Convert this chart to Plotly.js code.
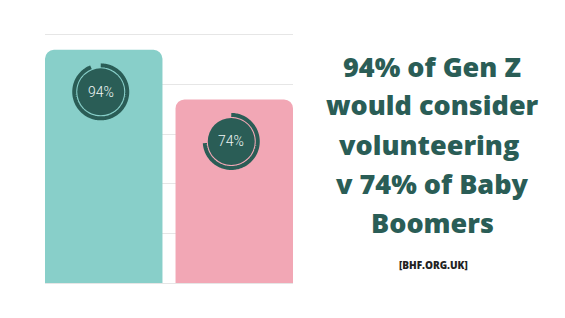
<!DOCTYPE html>
<html>
<head>
<meta charset="utf-8">
<script src="https://cdn.plot.ly/plotly-3.0.1.min.js"></script>
<style>html,body{margin:0;padding:0;background:#fff;}#chart{width:565px;height:318px;}</style>
</head>
<body>
<div id="chart"></div>
<script>
// ---- data ----
var categories = ['Gen Z', 'Baby Boomers'];
var values = [94, 74];
var barColors = ['#88CFC9', '#F2A7B5'];
var headlineLines = ['94% of Gen Z', 'would consider', 'volunteering ', 'v 74% of Baby', 'Boomers'];
var sourceText = '[BHF.ORG.UK]';

// ---- styling ----
var dark = '#2A5D56';
var W = 565, H = 318;
var M = {l: 45, r: 272, t: 32, b: 35};
var plotW = W - M.l - M.r, plotH = H - M.t - M.b;
function px2paperX(px) { return (px - M.l) / plotW; }
function px2paperY(py) { return 1 - (py - M.t) / plotH; }

var gaugeOffset = 42;   // px below bar top
var gaugeDx = -3;
var Rfill = 23.5, Rarc = 26.5, arcW = 4;

function arcPath(frac, R, dx, dy) {
  var n = Math.max(2, Math.round(frac * 180));
  var d = '';
  for (var k = 0; k <= n; k++) {
    var t = 2 * Math.PI * frac * k / n;
    var x = dx + R * Math.sin(t);
    var y = dy + R * Math.cos(t);
    d += (k ? ' L' : 'M') + x.toFixed(2) + ',' + y.toFixed(2);
  }
  return d;
}

var shapes = [];
var annotations = [];
values.forEach(function (v, i) {
  shapes.push({
    type: 'circle', xref: 'x', yref: 'y', layer: 'above',
    xsizemode: 'pixel', ysizemode: 'pixel', xanchor: i, yanchor: v,
    x0: gaugeDx - Rfill, x1: gaugeDx + Rfill,
    y0: -gaugeOffset - Rfill, y1: -gaugeOffset + Rfill,
    fillcolor: dark, line: {width: 0}
  });
  shapes.push({
    type: 'path', xref: 'x', yref: 'y', layer: 'above',
    xsizemode: 'pixel', ysizemode: 'pixel', xanchor: i, yanchor: v,
    path: arcPath(v / 100, Rarc, gaugeDx, -gaugeOffset),
    line: {color: dark, width: arcW}
  });
  annotations.push({
    x: i, y: v, xref: 'x', yref: 'y', xshift: gaugeDx, yshift: -gaugeOffset,
    text: v + '%', showarrow: false, xanchor: 'center', yanchor: 'middle',
    font: {family: 'Roboto', size: 14, weight: 300, color: '#EEF6F4'}
  });
});

var lineMid = [66, 105, 144, 183.5, 222];
headlineLines.forEach(function (t, k) {
  annotations.push({
    xref: 'paper', yref: 'paper', x: px2paperX(432), y: px2paperY(lineMid[k]),
    text: t, showarrow: false, xanchor: 'center', yanchor: 'middle',
    font: {family: 'Open Sans', size: 27, weight: 800, color: dark}
  });
});
annotations.push({
  xref: 'paper', yref: 'paper', x: px2paperX(433), y: px2paperY(265),
  text: sourceText, showarrow: false, xanchor: 'center', yanchor: 'middle',
  font: {family: 'Open Sans', size: 10, weight: 800, color: '#222'}
});

var trace = {
  type: 'bar', x: [0, 1], y: values,
  marker: {color: barColors, line: {width: 0}},
  hoverinfo: 'skip', text: categories, textposition: 'none'
};

var layout = {
  width: W, height: H,
  margin: M,
  paper_bgcolor: '#fff', plot_bgcolor: '#fff',
  showlegend: false,
  bargap: 0.1,
  barcornerradius: 9,
  xaxis: {range: [-0.45, 1.45], showgrid: false, zeroline: false, showticklabels: false, ticks: '', fixedrange: true},
  yaxis: {range: [0, 101.2], tick0: 0, dtick: 20, showgrid: true, gridcolor: '#E6E6E6', gridwidth: 1,
          zeroline: true, zerolinecolor: '#E6E6E6', zerolinewidth: 1,
          showticklabels: false, ticks: '', fixedrange: true},
  shapes: shapes,
  annotations: annotations
};

Plotly.newPlot('chart', [trace], layout, {staticPlot: true, displayModeBar: false});
</script>
</body>
</html>
